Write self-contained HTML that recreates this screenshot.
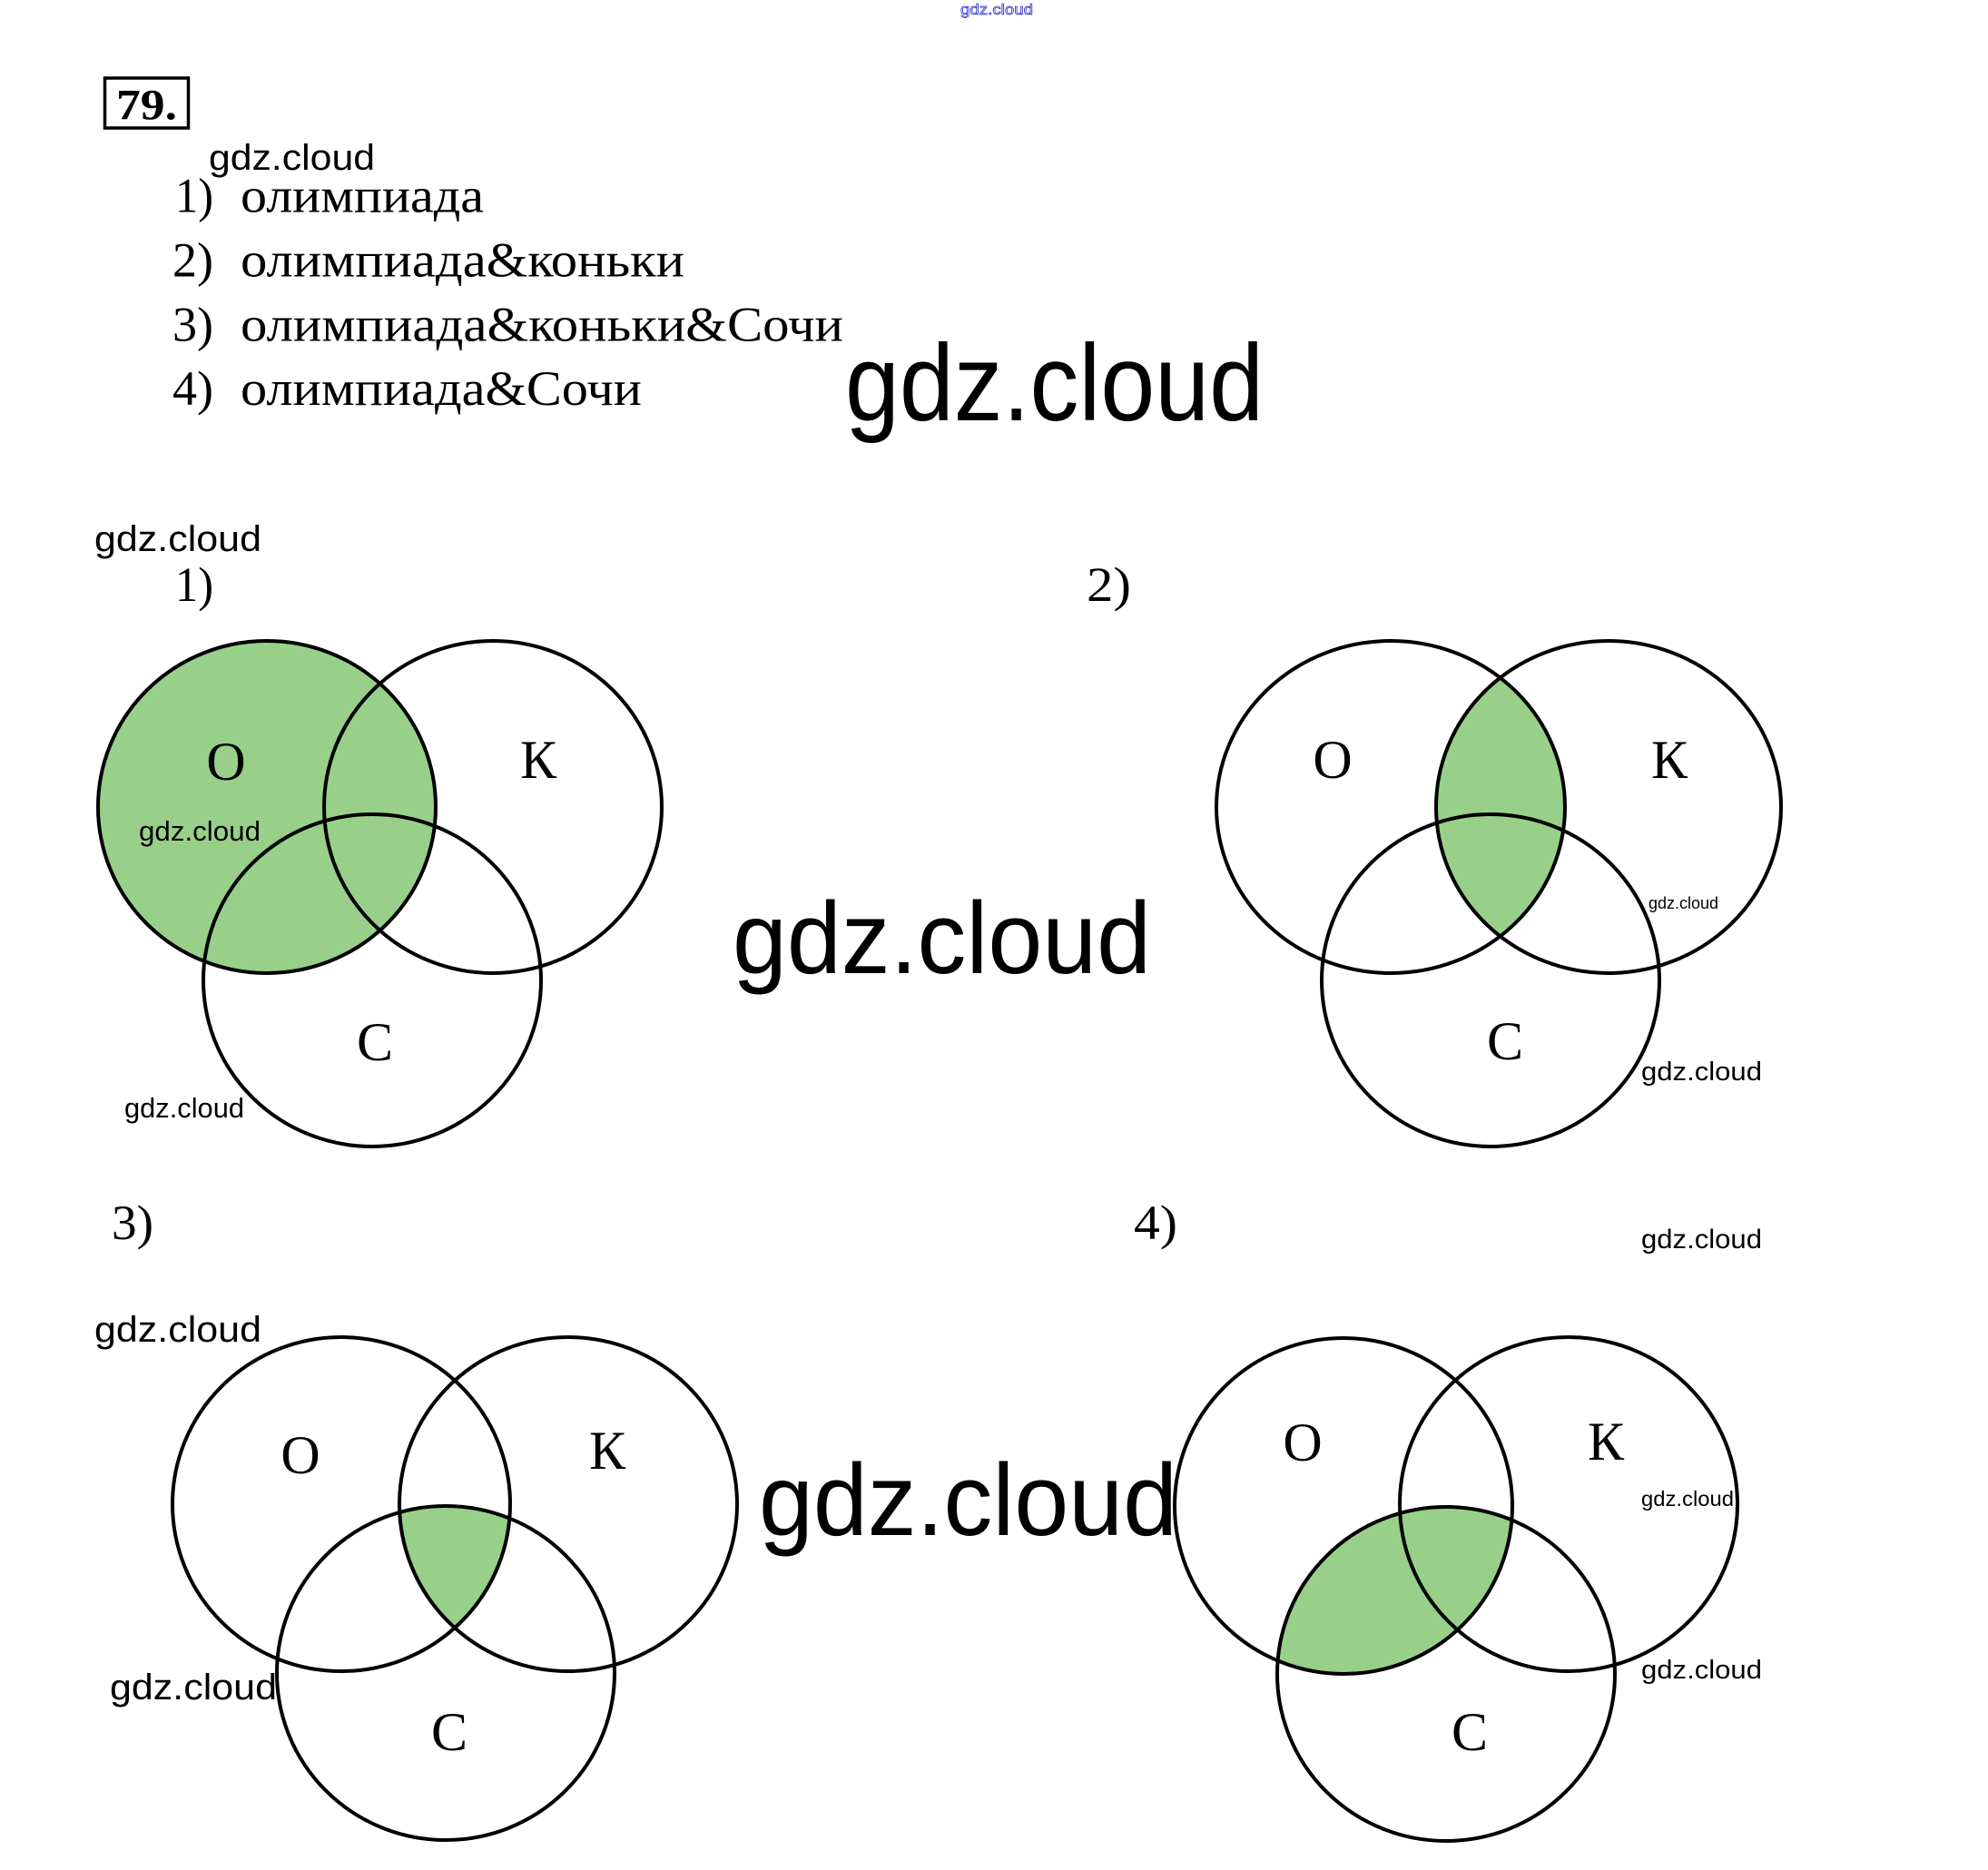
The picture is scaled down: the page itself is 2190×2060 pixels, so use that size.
<!DOCTYPE html>
<html>
<head>
<meta charset="utf-8">
<style>
  html, body { margin:0; padding:0; background:#fff; }
  svg { display:block; }
  .wm { font-family: "Liberation Sans", sans-serif; fill:#000; }
  .ser { font-family: "Liberation Serif", serif; fill:#000; }
</style>
</head>
<body>
<svg width="2190" height="2060" viewBox="0 0 2190 2060" xmlns="http://www.w3.org/2000/svg">
  <defs>
    <clipPath id="o2"><ellipse cx="1532" cy="889" rx="192" ry="183"/></clipPath>
    <clipPath id="o3"><ellipse cx="376" cy="1657" rx="186" ry="184"/></clipPath>
    <clipPath id="k3"><ellipse cx="626" cy="1657" rx="186" ry="184"/></clipPath>
    <clipPath id="o4"><ellipse cx="1480" cy="1659" rx="186" ry="185"/></clipPath>
  </defs>
  <rect width="2190" height="2060" fill="#fff"/>

  <!-- header -->
  <rect x="115.5" y="86" width="92" height="55" fill="none" stroke="#000" stroke-width="3.5"/>
  <text class="ser" x="128" y="131.5" font-size="48" font-weight="bold" textLength="67" lengthAdjust="spacingAndGlyphs">79.</text>

  <text class="ser" x="193" y="233.5" font-size="54" textLength="42" lengthAdjust="spacingAndGlyphs">1)</text>
  <text class="ser" x="265" y="233.5" font-size="54" textLength="268" lengthAdjust="spacingAndGlyphs">олимпиада</text>
  <text class="ser" x="190" y="304.5" font-size="54" textLength="45" lengthAdjust="spacingAndGlyphs">2)</text>
  <text class="ser" x="265" y="304.5" font-size="54" textLength="489" lengthAdjust="spacingAndGlyphs">олимпиада&amp;коньки</text>
  <text class="ser" x="190" y="375.5" font-size="54" textLength="45" lengthAdjust="spacingAndGlyphs">3)</text>
  <text class="ser" x="265" y="375.5" font-size="54" textLength="664" lengthAdjust="spacingAndGlyphs">олимпиада&amp;коньки&amp;Сочи</text>
  <text class="ser" x="190" y="446" font-size="54" textLength="45" lengthAdjust="spacingAndGlyphs">4)</text>
  <text class="ser" x="265" y="446" font-size="54" textLength="442" lengthAdjust="spacingAndGlyphs">олимпиада&amp;Сочи</text>

  <!-- diagram numbers -->
  <text class="ser" x="193" y="662" font-size="54" textLength="42" lengthAdjust="spacingAndGlyphs">1)</text>
  <text class="ser" x="1197" y="662" font-size="54" textLength="49" lengthAdjust="spacingAndGlyphs">2)</text>
  <text class="ser" x="123" y="1365" font-size="54" textLength="46" lengthAdjust="spacingAndGlyphs">3)</text>
  <text class="ser" x="1249" y="1365" font-size="54" textLength="48" lengthAdjust="spacingAndGlyphs">4)</text>

  <!-- fills -->
  <g fill="#98D08A">
    <ellipse cx="294" cy="889" rx="186" ry="183"/>
    <ellipse cx="1772" cy="889" rx="190" ry="183" clip-path="url(#o2)"/>
    <g clip-path="url(#o3)"><g clip-path="url(#k3)"><ellipse cx="491" cy="1843" rx="186" ry="184"/></g></g>
    <ellipse cx="1593" cy="1844" rx="186" ry="184" clip-path="url(#o4)"/>
  </g>

  <!-- circles -->
  <g fill="none" stroke="#000" stroke-width="4">
    <ellipse cx="294" cy="889" rx="186" ry="183"/>
    <ellipse cx="543" cy="889" rx="186" ry="183"/>
    <ellipse cx="410" cy="1080" rx="186" ry="183"/>

    <ellipse cx="1532" cy="889" rx="192" ry="183"/>
    <ellipse cx="1772" cy="889" rx="190" ry="183"/>
    <ellipse cx="1642" cy="1080" rx="186" ry="183"/>

    <ellipse cx="376" cy="1657" rx="186" ry="184"/>
    <ellipse cx="626" cy="1657" rx="186" ry="184"/>
    <ellipse cx="491" cy="1843" rx="186" ry="184"/>

    <ellipse cx="1480" cy="1659" rx="186" ry="185"/>
    <ellipse cx="1728" cy="1657" rx="186" ry="184"/>
    <ellipse cx="1593" cy="1844" rx="186" ry="184"/>
  </g>

  <!-- venn letters -->
  <g class="ser" font-size="60" text-anchor="middle">
    <text x="249" y="859">О</text>
    <text x="593" y="857">К</text>
    <text x="413" y="1168">С</text>

    <text x="1468" y="857">О</text>
    <text x="1839" y="857">К</text>
    <text x="1658" y="1167">С</text>

    <text x="331" y="1623">О</text>
    <text x="669" y="1618">К</text>
    <text x="495" y="1928">С</text>

    <text x="1435" y="1609">О</text>
    <text x="1769" y="1608">К</text>
    <text x="1619" y="1928">С</text>
  </g>

  <!-- watermarks -->
  <text x="1058" y="16" font-family="Liberation Sans, sans-serif" font-size="17" fill="#fff" stroke="#3333cc" stroke-width="0.8" textLength="80" lengthAdjust="spacingAndGlyphs">gdz.cloud</text>
  <text class="wm" x="230" y="187" font-size="40" textLength="183" lengthAdjust="spacingAndGlyphs">gdz.cloud</text>
  <text class="wm" x="931" y="463" font-size="120" textLength="461" lengthAdjust="spacingAndGlyphs">gdz.cloud</text>
  <text class="wm" x="104" y="607" font-size="40" textLength="184" lengthAdjust="spacingAndGlyphs">gdz.cloud</text>
  <text class="wm" x="153" y="926" font-size="31" textLength="134" lengthAdjust="spacingAndGlyphs">gdz.cloud</text>
  <text class="wm" x="137" y="1231" font-size="31" textLength="132" lengthAdjust="spacingAndGlyphs">gdz.cloud</text>
  <text class="wm" x="807" y="1072" font-size="112" textLength="461" lengthAdjust="spacingAndGlyphs">gdz.cloud</text>
  <text class="wm" x="1816" y="1001" font-size="18" textLength="77" lengthAdjust="spacingAndGlyphs">gdz.cloud</text>
  <text class="wm" x="1808" y="1190" font-size="29" textLength="133" lengthAdjust="spacingAndGlyphs">gdz.cloud</text>
  <text class="wm" x="104" y="1478" font-size="40" textLength="184" lengthAdjust="spacingAndGlyphs">gdz.cloud</text>
  <text class="wm" x="121" y="1872" font-size="40" textLength="184" lengthAdjust="spacingAndGlyphs">gdz.cloud</text>
  <text class="wm" x="836" y="1691" font-size="112" textLength="461" lengthAdjust="spacingAndGlyphs">gdz.cloud</text>
  <text class="wm" x="1808" y="1375" font-size="30" textLength="133" lengthAdjust="spacingAndGlyphs">gdz.cloud</text>
  <text class="wm" x="1808" y="1659" font-size="23" textLength="102" lengthAdjust="spacingAndGlyphs">gdz.cloud</text>
  <text class="wm" x="1808" y="1849" font-size="29" textLength="133" lengthAdjust="spacingAndGlyphs">gdz.cloud</text>
</svg>
</body>
</html>
